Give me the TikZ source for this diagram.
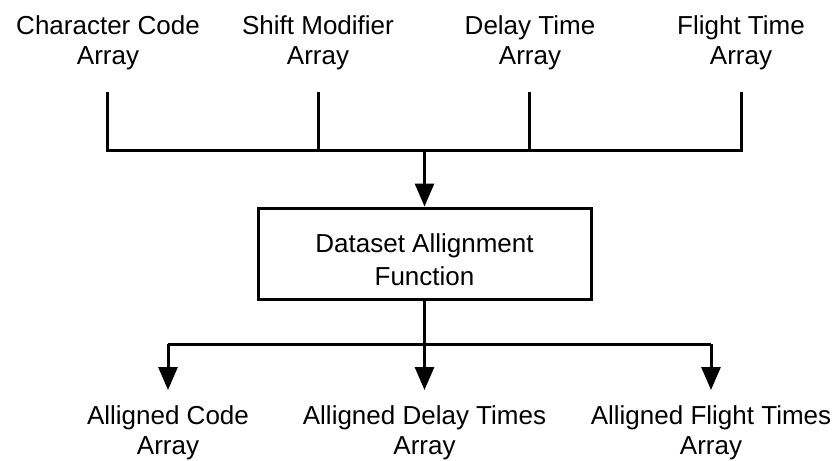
\documentclass[tikz,border=0pt]{standalone}
\usepackage{fontspec}
\setmainfont{Liberation Sans}
\usetikzlibrary{arrows.meta}
\begin{document}
\begin{tikzpicture}[x=1pt,y=-1pt,
  lbl/.style={align=center,inner sep=0pt,anchor=base,font=\fontsize{26}{30}\selectfont},
  fnbox/.style={draw,line width=3pt,minimum width=333pt,minimum height=91pt,inner sep=0pt,
    align=center,font=\fontsize{26}{33}\selectfont},
  wire/.style={line width=3pt,line join=miter},
  feed/.style={line width=3pt,-{Triangle[length=23pt,width=19pt]}}]
\useasboundingbox (0,0) rectangle (839,461);

% input arrays (anchored on the baseline of their last line)
\node[lbl] (t1) at (108,64.5) {Character Code\\Array};
\node[lbl] (t2) at (318,64.5) {Shift Modifier\\Array};
\node[lbl] (t3) at (530,64.5) {Delay Time\\Array};
\node[lbl] (t4) at (741,64.5) {Flight Time\\Array};

\coordinate (u1) at (107,92);
\coordinate (u2) at (318,92);
\coordinate (u3) at (529,92);
\coordinate (u4) at (741,92);
\coordinate (j1) at (107,150);
\coordinate (j2) at (318,150);
\coordinate (j3) at (529,150);
\coordinate (j4) at (741,150);
\coordinate (jc) at (424.5,150);

% alignment function
\node[fnbox] (fn) at (424.5,253.5) {\rule{0pt}{31pt}Dataset Allignment\\Function};

% outputs
\node[lbl] (o1) at (168,454) {Alligned Code\\Array};
\node[lbl] (o2) at (424.5,454) {Alligned Delay Times\\Array};
\node[lbl] (o3) at (711,454) {Alligned Flight Times\\Array};

\coordinate (b1) at (168,344);
\coordinate (bc) at (424.5,344);
\coordinate (b3) at (711,344);
\coordinate (d1) at (168,390);
\coordinate (d2) at (424.5,390);
\coordinate (d3) at (711,390);

% collecting bus
\draw[wire] (u1) -- (j1) -- (j4) -- (u4);
\draw[wire] (u2) -- (j2);
\draw[wire] (u3) -- (j3);
\draw[feed] (jc) -- (fn.north);

% distributing bus
\draw[wire] (fn.south) -- (bc);
\draw[wire] (b1) -- (b3);
\draw[feed] (b1) -- (d1);
\draw[feed] (bc) -- (d2);
\draw[feed] (b3) -- (d3);
\end{tikzpicture}
\end{document}
